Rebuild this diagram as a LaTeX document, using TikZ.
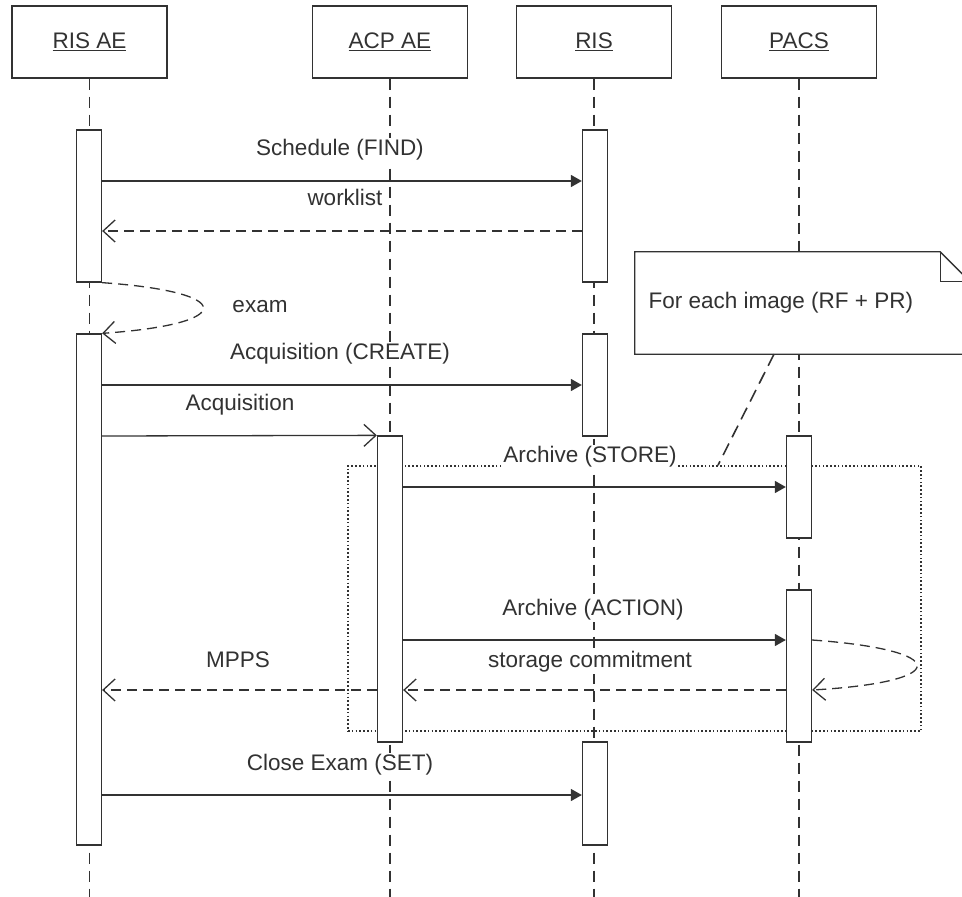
\documentclass[tikz,border=0pt]{standalone}
\usepackage{fontspec}
\setmainfont{Liberation Sans}
\usetikzlibrary{arrows.meta}
\definecolor{ink}{RGB}{50,50,50}
\tikzset{
  head/.style = {draw = ink, line width = 1.3pt, minimum width = 155pt,
                 minimum height = 72pt, inner sep = 0pt, text = ink},
  bar/.style = {draw = ink, line width = 1.3pt, fill = white,
                minimum width = 25pt, inner sep = 0pt},
  life/.style = {draw = ink, line width = 1.3pt, dash pattern = on 11pt off 7pt},
  call/.style = {draw = ink, line width = 1.4pt,
                 -{Triangle[length = 11pt, width = 12pt]}},
  barb/.style = {draw = ink, line width = 1.3pt,
                 -{Straight Barb[length = 12pt, width = 22pt]}},
  reply/.style = {barb, dash pattern = on 10pt off 6pt},
  lbl/.style = {text = ink, fill = white, inner sep = 1.5pt},
  every node/.style = {font = \fontsize{22.5}{26}\selectfont}
}
\begin{document}
\begin{tikzpicture}[x = 1pt, y = -1pt]
  \useasboundingbox (0,0) rectangle (962,897);
  \clip (0,0) rectangle (962,897);
  % heads and lifelines
  \node [head] (risae) at (89.5,42) {\underline{RIS AE}};
  \node [head] (acpae) at (390,42) {\underline{ACP AE}};
  \node [head] (ris) at (594,42) {\underline{RIS}};
  \node [head] (pacs) at (799,42) {\underline{PACS}};
  \foreach \n in {risae, acpae, ris, pacs}
    \draw [life] (\n.south) -- (\n.south |- 0,897);
  % loop frame
  \node [draw = ink, line width = 1.6pt, dash pattern = on 1.6pt off 2.2pt,
         minimum width = 573pt, minimum height = 265pt, inner sep = 0pt]
    (each) at (634.5,598.5) {};
  % activations
  \node [bar, minimum height = 152pt] (risae1) at (89,206) {};
  \node [bar, minimum height = 511pt] (risae2) at (89,589.5) {};
  \node [bar, minimum height = 306pt] (acp1) at (390,589) {};
  \node [bar, minimum height = 152pt] (ris1) at (595,206) {};
  \node [bar, minimum height = 102pt] (ris2) at (595,385) {};
  \node [bar, minimum height = 103pt] (ris3) at (595,793.5) {};
  \node [bar, minimum height = 102pt] (pacs1) at (799,487) {};
  \node [bar, minimum height = 152pt] (pacs2) at (799,666) {};
  % note
  \node [inner sep = 0pt, minimum width = 335pt, minimum height = 102pt]
    (note) at (802.5,303) {};
  \draw [ink, line width = 1.3pt, fill = white]
    (note.north west) -- ([xshift = -30pt]note.north east)
    -- ([yshift = -30pt]note.north east) -- (note.south east)
    -- (note.south west) -- cycle;
  \draw [ink, line width = 1.3pt] ([xshift = -30pt]note.north east)
    -- ([xshift = -30pt, yshift = -30pt]note.north east)
    -- ([yshift = -30pt]note.north east);
  \node [lbl, anchor = west] (notetext) at (647,303) {For each image (RF + PR)};
  \draw [ink, line width = 1.6pt, dash pattern = on 13pt off 7pt]
    (note.south -| 774,0) -- (each.north -| 718,0);
  % messages
  \draw [call] (risae1.east |- 0,181) -- (ris1.west |- 0,181);
  \node [lbl] (find) at (340,150) {Schedule (FIND)};
  \draw [reply] (ris1.west |- 0,231) -- (risae1.east |- 0,231);
  \node [lbl] (worklist) at (345,197) {worklist};
  \draw [reply] (risae1.south east) .. controls (237,292) and (237,324)
    .. (risae2.north east);
  \node [lbl] (exam) at (260,307) {exam};
  \draw [call] (risae2.east |- 0,385) -- (ris2.west |- 0,385);
  \node [lbl] (create) at (340,354) {Acquisition (CREATE)};
  \draw [barb] (risae2.east |- 0,436) -- (acp1.north west);
  \node [lbl] (acq) at (240,405) {Acquisition};
  \draw [call] (acp1.east |- 0,487) -- (pacs1.west |- 0,487);
  \node [lbl] (store) at (590,457) {Archive (STORE)};
  \draw [call] (acp1.east |- 0,640) -- (pacs2.west |- 0,640);
  \node [lbl] (action) at (593,610) {Archive (ACTION)};
  \draw [reply] (pacs2.east |- 0,640) .. controls (952,650) and (952,682)
    .. (pacs2.east |- 0,690);
  \draw [reply] (pacs2.west |- 0,690) -- (acp1.east |- 0,690);
  \node [lbl] (commit) at (590,662) {storage commitment};
  \draw [reply] (acp1.west |- 0,690) -- (risae2.east |- 0,690);
  \node [lbl] (mpps) at (238,660) {MPPS};
  \draw [call] (risae2.east |- 0,795) -- (ris3.west |- 0,795);
  \node [lbl] (close) at (340,765) {Close Exam (SET)};
\end{tikzpicture}
\end{document}
